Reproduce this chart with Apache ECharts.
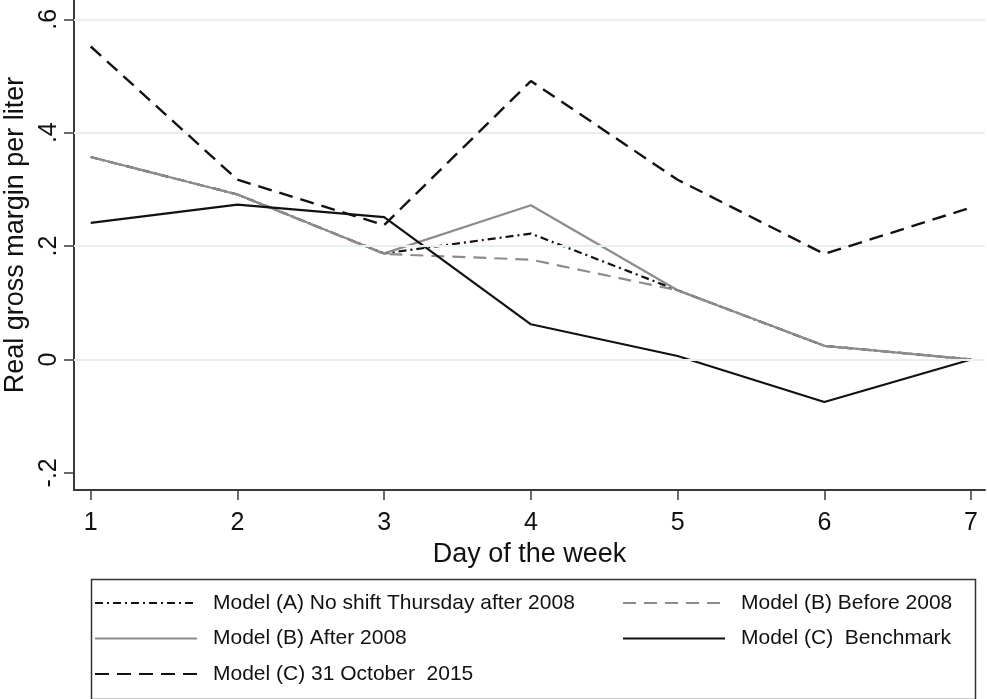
<!DOCTYPE html>
<html>
<head>
<meta charset="utf-8">
<script src="https://cdn.jsdelivr.net/npm/echarts@6/dist/echarts.min.js"></script>
<style>html,body{margin:0;padding:0;background:#fff}#c{width:987px;height:699px}</style>
</head>
<body>
<div id="c"></div>
<script>
const days = [1, 2, 3, 4, 5, 6, 7];
const modelA_NoShiftThuAfter2008 = [0.357, 0.291, 0.187, 0.222, 0.122, 0.024, 0.0];
const modelB_Before2008 = [0.357, 0.291, 0.186, 0.176, 0.122, 0.024, 0.0];
const modelB_After2008 = [0.357, 0.291, 0.187, 0.272, 0.122, 0.024, 0.0];
const modelC_Benchmark = [0.241, 0.273, 0.251, 0.062, 0.006, -0.075, 0.0];
const modelC_31Oct2015 = [0.552, 0.317, 0.237, 0.491, 0.317, 0.186, 0.268];
const yTickValues = [-0.2, 0, 0.2, 0.4, 0.6];
const yTickLabels = ['-.2', '0', '.2', '.4', '.6'];
const gridValues = [0, 0.2, 0.4, 0.6];
const seriesNames = [
  'Model (A) No shift Thursday after 2008',
  'Model (B) Before 2008',
  'Model (B) After 2008',
  'Model (C)  Benchmark',
  'Model (C) 31 October  2015'
];

const FONT = '"Liberation Sans", Arial, Helvetica, sans-serif';
const pairs = arr => days.map((d, i) => [d, arr[i]]);

const legendCommon = {
  orient: 'vertical', top: 592, padding: 0,
  itemWidth: 102, itemHeight: 14, itemGap: 13.5,
  itemStyle: {opacity: 0, borderWidth: 0},
  textStyle: {fontSize: 21, color: '#111', fontFamily: FONT, lineHeight: 22, padding: [0, 0, 0, 11]},
  selectedMode: false
};

const chart = echarts.init(document.getElementById('c'), null, {renderer: 'canvas'});
chart.setOption({
  backgroundColor: '#ffffff',
  animation: false,
  textStyle: {fontFamily: FONT},
  grid: {left: 74, right: 2, top: 0, bottom: 209, containLabel: false, outerBoundsMode: 'none'},
  xAxis: {
    type: 'value', min: 0.886, max: 7.095,
    name: 'Day of the week', nameLocation: 'middle', nameGap: 40,
    nameTextStyle: {fontSize: 27, color: '#111', fontFamily: FONT},
    axisLine: {show: true, onZero: false, lineStyle: {color: '#3a3a3a', width: 2}},
    axisTick: {show: true, length: 10, customValues: days, lineStyle: {color: '#3a3a3a', width: 1.5}},
    axisLabel: {show: true, customValues: days, margin: 21, fontSize: 25, color: '#111', fontFamily: FONT,
      formatter: v => String(Math.round(v))},
    splitLine: {show: false}
  },
  yAxis: {
    type: 'value', min: -0.2303, max: 0.634,
    name: 'Real gross margin per liter', nameLocation: 'middle', nameGap: 27,
    nameTextStyle: {fontSize: 27, color: '#111', fontFamily: FONT, padding: [0, 0, 0, 20]},
    axisLine: {show: true, onZero: false, lineStyle: {color: '#3a3a3a', width: 2}},
    axisTick: {show: true, length: 10, customValues: yTickValues, lineStyle: {color: '#3a3a3a', width: 1.5}},
    axisLabel: {show: true, customValues: yTickValues, rotate: 90, margin: 12, fontSize: 25, color: '#111', fontFamily: FONT,
      formatter: v => { const i = yTickValues.findIndex(t => Math.abs(t - v) < 1e-6); return i >= 0 ? yTickLabels[i] : ''; }},
    splitLine: {show: false}
  },
  legend: [
    Object.assign({}, legendCommon, {data: [seriesNames[0], seriesNames[2], seriesNames[4]], left: 94}),
    Object.assign({}, legendCommon, {data: [seriesNames[1], seriesNames[3]], left: 622})
  ],
  graphic: [{
    type: 'rect', left: 89, top: 577, silent: true,
    shape: {width: 884, height: 120},
    style: {fill: 'none', stroke: '#333', lineWidth: 1.5}
  }],
  series: [
    {
      name: '_grid', type: 'line', data: [], z: 1, silent: true,
      markLine: {silent: true, symbol: ['none', 'none'], label: {show: false},
        lineStyle: {type: 'solid', color: '#e9eff0', width: 2},
        data: gridValues.map(v => ({yAxis: v}))}
    },
    {
      name: seriesNames[0], type: 'line', data: pairs(modelA_NoShiftThuAfter2008), z: 2,
      symbol: 'none', color: '#111',
      lineStyle: {color: '#111', width: 2.2, type: [8, 4, 2, 4]}
    },
    {
      name: seriesNames[1], type: 'line', data: pairs(modelB_Before2008), z: 2,
      symbol: 'none', color: '#8c8c8c',
      lineStyle: {color: '#8c8c8c', width: 2.2, type: [13, 8]}
    },
    {
      name: seriesNames[2], type: 'line', data: pairs(modelB_After2008), z: 3,
      symbol: 'none', color: '#8c8c8c',
      lineStyle: {color: '#8c8c8c', width: 2.2, type: 'solid'}
    },
    {
      name: seriesNames[3], type: 'line', data: pairs(modelC_Benchmark), z: 4,
      symbol: 'none', color: '#111',
      lineStyle: {color: '#111', width: 2.2, type: 'solid'}
    },
    {
      name: seriesNames[4], type: 'line', data: pairs(modelC_31Oct2015), z: 5,
      symbol: 'none', color: '#111',
      lineStyle: {color: '#111', width: 2.4, type: [14, 8]}
    }
  ]
});
</script>
</body>
</html>
